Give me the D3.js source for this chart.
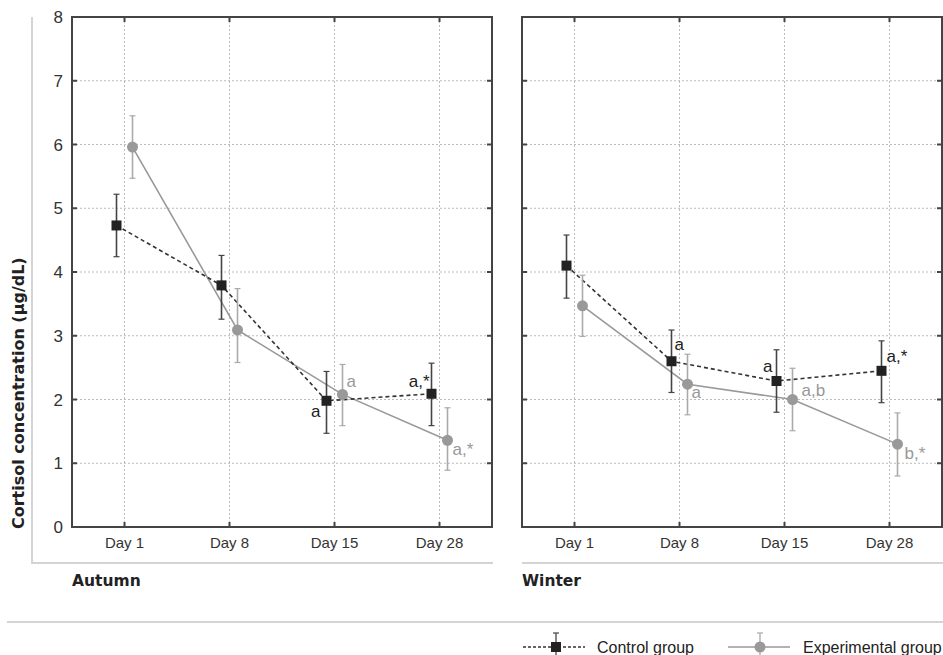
<!DOCTYPE html>
<html>
<head>
<meta charset="utf-8">
<script src="https://cdn.jsdelivr.net/npm/d3@7"></script>
<style>
  body { margin: 0; background: #fff; }
  svg { font-family: "Liberation Sans", Arial, sans-serif; }
  .heavy { font-family: "DejaVu Sans", sans-serif; font-weight: bold; }
</style>
</head>
<body>
<svg id="chart" width="943" height="655"></svg>
<script>
// Chart data
const days = ["Day 1", "Day 8", "Day 15", "Day 28"];
const seasons = ["Autumn", "Winter"];
const yTicks = [0, 1, 2, 3, 4, 5, 6, 7, 8];

// Control group: mean, lower and upper error bar ends
const controlMean = [[4.73, 3.79, 1.98, 2.09], [4.10, 2.60, 2.29, 2.45]];
const controlLow = [[4.24, 3.26, 1.47, 1.59], [3.59, 2.11, 1.80, 1.95]];
const controlHigh = [[5.22, 4.26, 2.44, 2.57], [4.58, 3.09, 2.78, 2.92]];

// Experimental group
const expMean = [[5.96, 3.09, 2.08, 1.36], [3.47, 2.24, 2.00, 1.30]];
const expLow = [[5.47, 2.58, 1.59, 0.89], [2.99, 1.76, 1.51, 0.80]];
const expHigh = [[6.45, 3.74, 2.55, 1.87], [3.95, 2.71, 2.49, 1.79]];

// Significance letters
const controlLabels = [["", "", "a", "a,*"], ["", "a", "a", "a,*"]];
const expLabels = [["", "", "a", "a,*"], ["", "a", "a,b", "b,*"]];

const yLabel = "Cortisol concentration (\u00b5g/dL)";
const legendNames = ["Control group", "Experimental group"];

// Label placement (dx, dy, anchor) relative to point
const controlLabelPos = [
  [null, null, [-6, 16, "end"], [-2, -7, "end"]],
  [null, [3, -11, "start"], [-4, -9, "end"], [5, -9, "start"]]
];
const expLabelPos = [
  [null, null, [4, -7, "start"], [5, 15, "start"]],
  [null, [4, 14, "start"], [9, -4, "start"], [7, 15, "start"]]
];

const svg = d3.select("#chart");

const panelLeft = [72, 522];
const panelWidth = 420;
const plotTop = 17, plotBottom = 527;
const shift = 8;

const ctrlColor = "#222", ctrlBar = "#444";
const expColor = "#999", expBar = "#aaa";

var y = d3.scaleLinear().domain([0, 8]).range([plotBottom, plotTop]);

// gray outer boxes
svg.append("line").attr("x1", 32).attr("x2", 32).attr("y1", 17).attr("y2", 563)
  .attr("stroke", "#d4d4d4").attr("stroke-width", 2);
svg.append("line").attr("x1", 31).attr("x2", 493).attr("y1", 563).attr("y2", 563)
  .attr("stroke", "#d4d4d4").attr("stroke-width", 2);
svg.append("line").attr("x1", 522).attr("x2", 943).attr("y1", 563).attr("y2", 563)
  .attr("stroke", "#d4d4d4").attr("stroke-width", 2);
svg.append("line").attr("x1", 7).attr("x2", 943).attr("y1", 622).attr("y2", 622)
  .attr("stroke", "#d4d4d4").attr("stroke-width", 2);

function drawErr(g, xp, lo, hi, color) {
  g.append("line").attr("x1", xp).attr("x2", xp).attr("y1", y(lo)).attr("y2", y(hi))
    .attr("stroke", color).attr("stroke-width", 1.6);
  [lo, hi].forEach(v => {
    g.append("line").attr("x1", xp - 3).attr("x2", xp + 3).attr("y1", y(v)).attr("y2", y(v))
      .attr("stroke", color).attr("stroke-width", 1.2);
  });
}

seasons.forEach((season, p) => {
  var x0 = panelLeft[p];
  var x = d3.scalePoint().domain(days).range([x0, x0 + panelWidth]).padding(0.5);
  var g = svg.append("g");

  // grid
  g.selectAll(".hg").data(yTicks.slice(1, -1)).enter().append("line")
    .attr("x1", x0).attr("x2", x0 + panelWidth)
    .attr("y1", d => y(d)).attr("y2", d => y(d))
    .attr("stroke", "#bbb").attr("stroke-dasharray", "2,2");
  g.selectAll(".vg").data(days).enter().append("line")
    .attr("x1", d => x(d)).attr("x2", d => x(d))
    .attr("y1", plotTop).attr("y2", plotBottom)
    .attr("stroke", "#bbb").attr("stroke-dasharray", "2,2");

  // frame and inward ticks
  g.append("rect").attr("x", x0).attr("y", plotTop).attr("width", panelWidth).attr("height", plotBottom - plotTop)
    .attr("fill", "none").attr("stroke", "#444").attr("stroke-width", 2);
  g.selectAll(".lt").data(yTicks).enter().append("path")
    .attr("d", d => "M" + x0 + "," + y(d) + "h5M" + (x0 + panelWidth) + "," + y(d) + "h-5")
    .attr("stroke", "#444").attr("stroke-width", 2);
  g.selectAll(".bt").data(days).enter().append("path")
    .attr("d", d => "M" + x(d) + "," + plotBottom + "v-5M" + x(d) + "," + plotTop + "v5")
    .attr("stroke", "#444").attr("stroke-width", 2);

  // tick labels
  if (p === 0) {
    g.selectAll(".yl").data(yTicks).enter().append("text")
      .attr("x", x0 - 9).attr("y", d => y(d) + 6)
      .attr("text-anchor", "end").attr("font-size", 17).attr("fill", "#333")
      .text(d => d);
  }
  g.selectAll(".xl").data(days).enter().append("text")
    .attr("x", d => x(d)).attr("y", 548)
    .attr("text-anchor", "middle").attr("font-size", 15).attr("fill", "#333")
    .text(d => d);

  g.append("text").attr("class", "heavy").attr("x", x0).attr("y", 586)
    .attr("font-size", 15.5).attr("fill", "#222")
    .text(season);

  // experimental series
  var expLine = d3.line().x((d, i) => x(days[i]) + shift).y(d => y(d));
  g.append("path").datum(expMean[p]).attr("d", expLine)
    .attr("fill", "none").attr("stroke", expColor).attr("stroke-width", 1.6);

  // control series
  var ctrlLine = d3.line().x((d, i) => x(days[i]) - shift).y(d => y(d));
  g.append("path").datum(controlMean[p]).attr("d", ctrlLine)
    .attr("fill", "none").attr("stroke", "#333").attr("stroke-width", 1.6)
    .attr("stroke-dasharray", "4,3");

  days.forEach((d, i) => {
    drawErr(g, x(d) + shift, expLow[p][i], expHigh[p][i], expBar);
    drawErr(g, x(d) - shift, controlLow[p][i], controlHigh[p][i], ctrlBar);
  });

  g.selectAll(".ep").data(expMean[p]).enter().append("circle")
    .attr("cx", (d, i) => x(days[i]) + shift).attr("cy", d => y(d)).attr("r", 5.5)
    .attr("fill", expColor);
  g.selectAll(".cp").data(controlMean[p]).enter().append("rect")
    .attr("x", (d, i) => x(days[i]) - shift - 5).attr("y", d => y(d) - 5)
    .attr("width", 10).attr("height", 10).attr("fill", ctrlColor);

  // letters
  days.forEach((d, i) => {
    var cp = controlLabelPos[p][i];
    if (cp) {
      g.append("text").attr("x", x(d) - shift + cp[0]).attr("y", y(controlMean[p][i]) + cp[1])
        .attr("text-anchor", cp[2]).attr("font-size", 17).attr("fill", "#222")
        .text(controlLabels[p][i]);
    }
    var ep = expLabelPos[p][i];
    if (ep) {
      g.append("text").attr("x", x(d) + shift + ep[0]).attr("y", y(expMean[p][i]) + ep[1])
        .attr("text-anchor", ep[2]).attr("font-size", 17).attr("fill", "#999")
        .text(expLabels[p][i]);
    }
  });
});

// y axis title
svg.append("text").attr("class", "heavy")
  .attr("transform", "translate(24,529) rotate(-90)")
  .attr("font-size", 16).attr("fill", "#222")
  .text(yLabel);

// legend
var ly = 647;
var leg = svg.append("g");
leg.append("line").attr("x1", 523).attr("x2", 585).attr("y1", ly).attr("y2", ly)
  .attr("stroke", "#333").attr("stroke-width", 1.3).attr("stroke-dasharray", "3,2");
leg.append("line").attr("x1", 556).attr("x2", 556).attr("y1", 633).attr("y2", 655)
  .attr("stroke", ctrlBar).attr("stroke-width", 1.3);
leg.append("line").attr("x1", 553).attr("x2", 559).attr("y1", 633).attr("y2", 633)
  .attr("stroke", ctrlBar).attr("stroke-width", 1.2);
leg.append("rect").attr("x", 551).attr("y", ly - 5).attr("width", 10).attr("height", 10).attr("fill", ctrlColor);
leg.append("text").attr("x", 597).attr("y", 653).attr("font-size", 16).attr("fill", "#222").text(legendNames[0]);

leg.append("line").attr("x1", 728).attr("x2", 790).attr("y1", ly).attr("y2", ly)
  .attr("stroke", expColor).attr("stroke-width", 1.3);
leg.append("line").attr("x1", 760).attr("x2", 760).attr("y1", 633).attr("y2", 655)
  .attr("stroke", expBar).attr("stroke-width", 1.3);
leg.append("line").attr("x1", 757).attr("x2", 763).attr("y1", 633).attr("y2", 633)
  .attr("stroke", expBar).attr("stroke-width", 1.2);
leg.append("circle").attr("cx", 760).attr("cy", ly).attr("r", 5.5).attr("fill", expColor);
leg.append("text").attr("x", 803).attr("y", 653).attr("font-size", 16).attr("fill", "#222").text(legendNames[1]);
</script>
</body>
</html>
